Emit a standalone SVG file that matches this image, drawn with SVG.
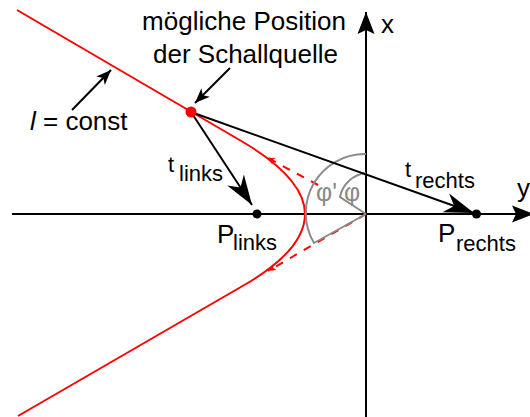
<svg xmlns="http://www.w3.org/2000/svg" width="530" height="417" viewBox="0 0 530 417">
<style>
text{font-family:"Liberation Sans",Arial,sans-serif;fill:#000}
.m{font-size:26px}
.s{font-size:22px}
.g{fill:#8a8a8a;font-size:25px}
.ax{stroke:#000;stroke-width:2;fill:none}
.red{stroke:#f00;stroke-width:2;fill:none}
.dash{stroke:#f00;stroke-width:2;fill:none;stroke-dasharray:8,8}
.gray{stroke:#8a8a8a;stroke-width:2;fill:none}
.blk{stroke:#000;stroke-width:2;fill:none}
</style>
<defs>
<marker id="axh" markerUnits="userSpaceOnUse" markerWidth="30" markerHeight="24" viewBox="-26 -12 30 24" refX="0" refY="0" orient="auto">
<path d="M0,0 L-22,-8.5 L-18,0 L-22,8.5 Z" fill="#000"/>
</marker>
<marker id="big" markerUnits="userSpaceOnUse" markerWidth="36" markerHeight="28" viewBox="-32 -14 36 28" refX="0" refY="0" orient="auto">
<path d="M0,0 L-30,-10 L-21,0 L-30,10 Z" fill="#000"/>
</marker>
<marker id="sm" markerUnits="userSpaceOnUse" markerWidth="20" markerHeight="16" viewBox="-18 -8 20 16" refX="0" refY="0" orient="auto">
<path d="M0,0 L-15,-6 L-11,0 L-15,6 Z" fill="#000"/>
</marker>
<marker id="rs" markerUnits="userSpaceOnUse" markerWidth="12" markerHeight="10" viewBox="-10 -5 12 10" refX="0" refY="0" orient="auto">
<path d="M0,0 L-8,-3.5 L-6,0 L-8,3.5 Z" fill="#f00"/>
</marker>
</defs>

<g id="connectors">
<line id="axis-y" class="ax" x1="12" y1="214" x2="534" y2="214" marker-end="url(#axh)"/>
<line id="axis-x" class="ax" x1="366" y1="417" x2="366" y2="12" marker-end="url(#axh)"/>
<path id="hyperbola" class="red" d="M17,10 L243,142 C285,167 305,190 305,214 C305,238 285,261 246,284 L18,416"/>
<line class="dash" x1="318" y1="185" x2="267" y2="157.5" marker-end="url(#rs)"/>
<line class="dash" x1="366" y1="214" x2="268" y2="271" marker-end="url(#rs)"/>
<path id="angle-big" class="gray" d="M366,154 A59,59 0 0 0 314,243 L366,214"/>
<path id="angle-small" class="gray" d="M366,173 A30,30 0 0 0 340,197 L366,214"/>
<line id="t-links" class="blk" x1="191" y1="112" x2="252" y2="205" marker-end="url(#big)"/>
<line id="t-rechts" class="blk" x1="191" y1="112" x2="474" y2="213" marker-end="url(#big)"/>
<line id="arrow-const" class="blk" x1="72" y1="110" x2="111" y2="70" marker-end="url(#sm)"/>
<line id="arrow-pos" class="blk" x1="230" y1="68" x2="195" y2="103" marker-end="url(#sm)"/>
</g>

<g id="source">
<circle cx="191" cy="112" r="5.5" fill="#f00"/>
</g>
<g id="p-links">
<circle cx="257" cy="214" r="4.5" fill="#000"/>
<text class="m" x="217" y="243">P</text>
<text class="s" x="233" y="250">links</text>
</g>
<g id="p-rechts">
<circle cx="476.5" cy="214" r="4.5" fill="#000"/>
<text class="m" x="438" y="242">P</text>
<text class="s" x="456" y="251">rechts</text>
</g>

<g id="labels">
<text class="m" x="244" y="30" text-anchor="middle">mögliche Position</text>
<text class="m" x="245.5" y="63" text-anchor="middle">der Schallquelle</text>
<text class="m" x="30" y="130"><tspan font-style="italic">l</tspan> = const</text>
<text class="s" x="168" y="172">t</text>
<text class="s" x="179" y="181">links</text>
<text class="s" x="405" y="177">t</text>
<text class="s" x="415" y="188">rechts</text>
<text class="m" x="381" y="33">x</text>
<text class="m" x="517" y="197">y</text>
<text class="g" x="316" y="201">φ'</text>
<text class="g" x="344" y="201">φ</text>
</g>
</svg>
